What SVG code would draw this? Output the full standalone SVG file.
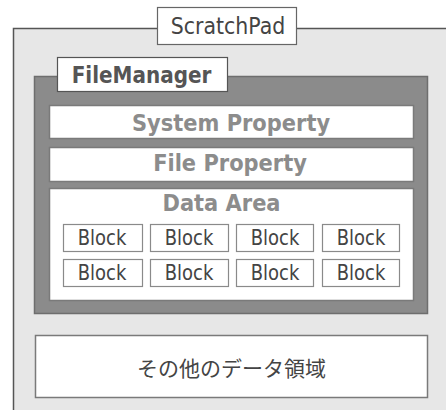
<svg xmlns="http://www.w3.org/2000/svg" width="446" height="410" viewBox="0 0 446 410">
<style>
.t{font-family:"DejaVu Sans","Noto Sans CJK JP",sans-serif;text-anchor:middle}
.w{fill:#fff;stroke:#7a7a7a;stroke-width:1.5}
.blk{fill:#fff;stroke:#8a8a8a;stroke-width:1.2}
.bt{font-size:18px;fill:#444}
.h{font-size:21px;font-weight:bold;fill:#8c8c8c}
</style>
<rect x="0" y="0" width="446" height="410" fill="#fff"/>
<g id="scratchpad">
<rect x="13.5" y="28.5" width="460" height="400" fill="#e7e7e7" stroke="#555" stroke-width="1.5"/>
<rect x="157.5" y="7.5" width="139" height="37" fill="#fff" stroke="#666" stroke-width="1.2"/>
<text class="t" transform="translate(228,33.5) scale(1,1.08)" font-size="20.5" fill="#444">ScratchPad</text>
</g>
<g id="filemanager">
<rect x="34.5" y="76.5" width="393" height="237" fill="#8b8b8b" stroke="#6e6e6e" stroke-width="1.5"/>
<rect x="57.5" y="57.5" width="170" height="34" fill="#fff" stroke="#555" stroke-width="1.2"/>
<text class="t" transform="translate(141.5,83) scale(1,1.18)" font-size="20" font-weight="bold" fill="#555">FileManager</text>
</g>
<g id="system-property">
<rect class="w" x="49.5" y="105.5" width="364" height="33"/>
<text class="t h" transform="translate(231,130.5) scale(1,1.08)">System Property</text>
</g>
<g id="file-property">
<rect class="w" x="49.5" y="147.5" width="364" height="34"/>
<text class="t h" transform="translate(230,170.5) scale(1,1.08)">File Property</text>
</g>
<g id="data-area">
<rect class="w" x="49.5" y="188.5" width="364" height="112"/>
<text class="t h" transform="translate(221.5,211) scale(1,1.08)">Data Area</text>
</g>
<g id="blocks">
<g id="block-1"><rect class="blk" x="63.5" y="224.5" width="79" height="27"/><text class="t bt" transform="translate(102,245) scale(1,1.2)">Block</text></g>
<g id="block-2"><rect class="blk" x="150.5" y="224.5" width="78" height="27"/><text class="t bt" transform="translate(189,245) scale(1,1.2)">Block</text></g>
<g id="block-3"><rect class="blk" x="236.5" y="224.5" width="77" height="27"/><text class="t bt" transform="translate(275,245) scale(1,1.2)">Block</text></g>
<g id="block-4"><rect class="blk" x="322.5" y="224.5" width="77" height="27"/><text class="t bt" transform="translate(361,245) scale(1,1.2)">Block</text></g>
<g id="block-5"><rect class="blk" x="63.5" y="259.5" width="79" height="27"/><text class="t bt" transform="translate(102,280) scale(1,1.2)">Block</text></g>
<g id="block-6"><rect class="blk" x="150.5" y="259.5" width="78" height="27"/><text class="t bt" transform="translate(189,280) scale(1,1.2)">Block</text></g>
<g id="block-7"><rect class="blk" x="236.5" y="259.5" width="77" height="27"/><text class="t bt" transform="translate(275,280) scale(1,1.2)">Block</text></g>
<g id="block-8"><rect class="blk" x="322.5" y="259.5" width="77" height="27"/><text class="t bt" transform="translate(361,280) scale(1,1.2)">Block</text></g>
</g>
<g id="other-data">
<rect x="35.5" y="335.5" width="392" height="62" fill="#fff" stroke="#7a7a7a" stroke-width="1.5"/>
<text class="t" x="231.5" y="376" font-size="21" fill="#444">その他のデータ領域</text>
</g>
<g id="connectors"></g>
</svg>
